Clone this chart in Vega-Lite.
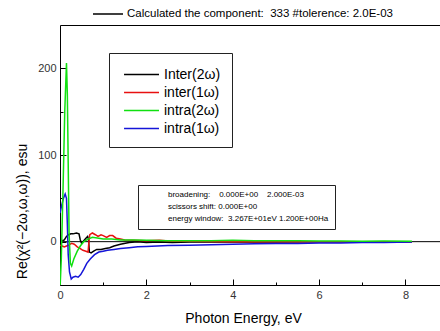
{
  "$schema": "https://vega.github.io/schema/vega-lite/v6.json",
  "width": 380,
  "height": 260,
  "autosize": {"type": "none"},
  "padding": {"left": 60, "top": 25, "right": 0, "bottom": 46},
  "background": "white",
  "config": {
    "font": "Liberation Sans",
    "view": {"stroke": "black", "strokeWidth": 1},
    "axis": {"labelFont": "Liberation Sans", "titleFont": "Liberation Sans", "labelColor": "#333", "titleColor": "black", "tickColor": "black", "domain": false, "grid": false, "labelFontSize": 11, "titleFontSize": 14, "titleFontWeight": "normal"},
    "legend": {"labelFont": "Liberation Sans", "labelColor": "black", "labelLimit": 500}
  },
  "layer": [
    {
      "data": {"values": [{"y": 0}]},
      "mark": {"type": "rule", "color": "black", "strokeWidth": 1},
      "encoding": {"y": {"field": "y", "type": "quantitative", "scale": {"domain": [-50, 250], "nice": false}}}
    },
    {
      "data": {"values": [
        {"series": "Inter(2ω)", "x": 0, "y": 0}, {"series": "Inter(2ω)", "x": 0.05, "y": 1}, {"series": "Inter(2ω)", "x": 0.1, "y": 2}, {"series": "Inter(2ω)", "x": 0.15, "y": 6}, {"series": "Inter(2ω)", "x": 0.2, "y": 8}, {"series": "Inter(2ω)", "x": 0.25, "y": 9}, {"series": "Inter(2ω)", "x": 0.3, "y": 9}, {"series": "Inter(2ω)", "x": 0.38, "y": 10}, {"series": "Inter(2ω)", "x": 0.44, "y": 9}, {"series": "Inter(2ω)", "x": 0.47, "y": 2}, {"series": "Inter(2ω)", "x": 0.5, "y": -2}, {"series": "Inter(2ω)", "x": 0.55, "y": 1}, {"series": "Inter(2ω)", "x": 0.6, "y": 4}, {"series": "Inter(2ω)", "x": 0.64, "y": 6}, {"series": "Inter(2ω)", "x": 0.66, "y": 3}, {"series": "Inter(2ω)", "x": 0.68, "y": -12}, {"series": "Inter(2ω)", "x": 0.72, "y": -13}, {"series": "Inter(2ω)", "x": 0.78, "y": -11}, {"series": "Inter(2ω)", "x": 0.85, "y": -9}, {"series": "Inter(2ω)", "x": 0.95, "y": -9}, {"series": "Inter(2ω)", "x": 1.05, "y": -8}, {"series": "Inter(2ω)", "x": 1.15, "y": -7}, {"series": "Inter(2ω)", "x": 1.25, "y": -5}, {"series": "Inter(2ω)", "x": 1.4, "y": -3}, {"series": "Inter(2ω)", "x": 1.6, "y": -1}, {"series": "Inter(2ω)", "x": 1.8, "y": 0}, {"series": "Inter(2ω)", "x": 2.0, "y": -1}, {"series": "Inter(2ω)", "x": 2.3, "y": -0.5}, {"series": "Inter(2ω)", "x": 2.6, "y": -1}, {"series": "Inter(2ω)", "x": 3, "y": -0.5}, {"series": "Inter(2ω)", "x": 4, "y": -0.5}, {"series": "Inter(2ω)", "x": 5, "y": -0.5}, {"series": "Inter(2ω)", "x": 6, "y": 0}, {"series": "Inter(2ω)", "x": 7, "y": 0}, {"series": "Inter(2ω)", "x": 8.15, "y": 0},
        {"series": "inter(1ω)", "x": 0, "y": -4}, {"series": "inter(1ω)", "x": 0.05, "y": -5}, {"series": "inter(1ω)", "x": 0.1, "y": -6}, {"series": "inter(1ω)", "x": 0.15, "y": -5}, {"series": "inter(1ω)", "x": 0.2, "y": -4}, {"series": "inter(1ω)", "x": 0.27, "y": -2}, {"series": "inter(1ω)", "x": 0.33, "y": -3}, {"series": "inter(1ω)", "x": 0.4, "y": -6}, {"series": "inter(1ω)", "x": 0.47, "y": -8}, {"series": "inter(1ω)", "x": 0.53, "y": -10}, {"series": "inter(1ω)", "x": 0.6, "y": -11}, {"series": "inter(1ω)", "x": 0.65, "y": -12}, {"series": "inter(1ω)", "x": 0.67, "y": 0}, {"series": "inter(1ω)", "x": 0.69, "y": 8}, {"series": "inter(1ω)", "x": 0.75, "y": 10}, {"series": "inter(1ω)", "x": 0.82, "y": 8}, {"series": "inter(1ω)", "x": 0.88, "y": 6}, {"series": "inter(1ω)", "x": 0.95, "y": 8}, {"series": "inter(1ω)", "x": 1.0, "y": 7}, {"series": "inter(1ω)", "x": 1.08, "y": 5}, {"series": "inter(1ω)", "x": 1.15, "y": 7}, {"series": "inter(1ω)", "x": 1.22, "y": 7}, {"series": "inter(1ω)", "x": 1.3, "y": 4}, {"series": "inter(1ω)", "x": 1.4, "y": 3}, {"series": "inter(1ω)", "x": 1.5, "y": 2}, {"series": "inter(1ω)", "x": 1.7, "y": 1.5}, {"series": "inter(1ω)", "x": 2, "y": 1}, {"series": "inter(1ω)", "x": 2.3, "y": 1.5}, {"series": "inter(1ω)", "x": 2.6, "y": 0.5}, {"series": "inter(1ω)", "x": 3, "y": 0.5}, {"series": "inter(1ω)", "x": 4, "y": 0}, {"series": "inter(1ω)", "x": 5, "y": 0}, {"series": "inter(1ω)", "x": 6, "y": 0}, {"series": "inter(1ω)", "x": 7, "y": 0}, {"series": "inter(1ω)", "x": 8.15, "y": 0},
        {"series": "intra(1ω)", "x": 0, "y": 33}, {"series": "intra(1ω)", "x": 0.04, "y": 42}, {"series": "intra(1ω)", "x": 0.08, "y": 50}, {"series": "intra(1ω)", "x": 0.12, "y": 55}, {"series": "intra(1ω)", "x": 0.15, "y": 50}, {"series": "intra(1ω)", "x": 0.17, "y": 20}, {"series": "intra(1ω)", "x": 0.19, "y": -15}, {"series": "intra(1ω)", "x": 0.22, "y": -35}, {"series": "intra(1ω)", "x": 0.26, "y": -43}, {"series": "intra(1ω)", "x": 0.3, "y": -41}, {"series": "intra(1ω)", "x": 0.36, "y": -40}, {"series": "intra(1ω)", "x": 0.42, "y": -41}, {"series": "intra(1ω)", "x": 0.48, "y": -38}, {"series": "intra(1ω)", "x": 0.55, "y": -32}, {"series": "intra(1ω)", "x": 0.62, "y": -25}, {"series": "intra(1ω)", "x": 0.7, "y": -20}, {"series": "intra(1ω)", "x": 0.8, "y": -15}, {"series": "intra(1ω)", "x": 0.9, "y": -12}, {"series": "intra(1ω)", "x": 1.0, "y": -11}, {"series": "intra(1ω)", "x": 1.1, "y": -10}, {"series": "intra(1ω)", "x": 1.25, "y": -9}, {"series": "intra(1ω)", "x": 1.4, "y": -8}, {"series": "intra(1ω)", "x": 1.6, "y": -7}, {"series": "intra(1ω)", "x": 1.8, "y": -6}, {"series": "intra(1ω)", "x": 2.0, "y": -5.5}, {"series": "intra(1ω)", "x": 2.5, "y": -4.5}, {"series": "intra(1ω)", "x": 3, "y": -4}, {"series": "intra(1ω)", "x": 3.5, "y": -3.5}, {"series": "intra(1ω)", "x": 4, "y": -3}, {"series": "intra(1ω)", "x": 4.5, "y": -2.5}, {"series": "intra(1ω)", "x": 5, "y": -2}, {"series": "intra(1ω)", "x": 5.5, "y": -2}, {"series": "intra(1ω)", "x": 6, "y": -1.5}, {"series": "intra(1ω)", "x": 6.5, "y": -1.5}, {"series": "intra(1ω)", "x": 7, "y": -1}, {"series": "intra(1ω)", "x": 7.5, "y": -1}, {"series": "intra(1ω)", "x": 8.15, "y": -0.5},
        {"series": "intra(2ω)", "x": 0, "y": -55}, {"series": "intra(2ω)", "x": 0.03, "y": -20}, {"series": "intra(2ω)", "x": 0.07, "y": 60}, {"series": "intra(2ω)", "x": 0.11, "y": 150}, {"series": "intra(2ω)", "x": 0.15, "y": 206}, {"series": "intra(2ω)", "x": 0.17, "y": 170}, {"series": "intra(2ω)", "x": 0.19, "y": 90}, {"series": "intra(2ω)", "x": 0.21, "y": 10}, {"series": "intra(2ω)", "x": 0.24, "y": -25}, {"series": "intra(2ω)", "x": 0.27, "y": -28}, {"series": "intra(2ω)", "x": 0.32, "y": -20}, {"series": "intra(2ω)", "x": 0.4, "y": -11}, {"series": "intra(2ω)", "x": 0.47, "y": -5}, {"series": "intra(2ω)", "x": 0.55, "y": 0}, {"series": "intra(2ω)", "x": 0.65, "y": 3}, {"series": "intra(2ω)", "x": 0.75, "y": 5}, {"series": "intra(2ω)", "x": 0.9, "y": 4}, {"series": "intra(2ω)", "x": 1.0, "y": 3}, {"series": "intra(2ω)", "x": 1.2, "y": 3}, {"series": "intra(2ω)", "x": 1.4, "y": 2}, {"series": "intra(2ω)", "x": 1.7, "y": 2}, {"series": "intra(2ω)", "x": 2.0, "y": 1.5}, {"series": "intra(2ω)", "x": 2.5, "y": 1}, {"series": "intra(2ω)", "x": 3, "y": 1}, {"series": "intra(2ω)", "x": 3.5, "y": 1}, {"series": "intra(2ω)", "x": 4, "y": 1.5}, {"series": "intra(2ω)", "x": 4.5, "y": 1}, {"series": "intra(2ω)", "x": 5, "y": 1}, {"series": "intra(2ω)", "x": 5.5, "y": 1}, {"series": "intra(2ω)", "x": 6, "y": 0.8}, {"series": "intra(2ω)", "x": 6.5, "y": 0.8}, {"series": "intra(2ω)", "x": 7, "y": 0.6}, {"series": "intra(2ω)", "x": 7.5, "y": 0.8}, {"series": "intra(2ω)", "x": 8.15, "y": 0.5}
      ]},
      "mark": {"type": "line", "strokeWidth": 1.5, "clip": true},
      "encoding": {
        "x": {"field": "x", "type": "quantitative", "scale": {"domain": [0, 8.8], "nice": false},
          "axis": {"values": [0, 1, 2, 3, 4, 5, 6, 7, 8], "labelExpr": "datum.value % 2 === 0 ? datum.label : ''",
            "tickSize": {"condition": {"test": "datum.value % 2 === 0", "value": -6}, "value": -3},
            "labelPadding": 10, "labelFlush": false,
            "title": "Photon Energy, eV", "titleX": 183, "titleY": 33, "titleBaseline": "middle", "titleAlign": "center", "titleAnchor": null}},
        "y": {"field": "y", "type": "quantitative", "scale": {"domain": [-50, 250], "nice": false},
          "axis": {"values": [0, 50, 100, 150, 200], "labelExpr": "datum.value % 100 === 0 ? datum.label : ''",
            "tickSize": {"condition": {"test": "datum.value % 100 === 0", "value": -6}, "value": -3},
            "labelPadding": 10, "labelFlush": false,
            "title": "Re(χ²(−2ω,ω,ω)), esu", "titleX": -38, "titleY": 186, "titleBaseline": "middle", "titleAlign": "center", "titleAnchor": null}},
        "color": {"field": "series", "type": "nominal", "sort": ["Inter(2ω)", "inter(1ω)", "intra(2ω)", "intra(1ω)"],
          "scale": {"domain": ["Inter(2ω)", "inter(1ω)", "intra(2ω)", "intra(1ω)"], "range": ["#000000", "#e81010", "#10e010", "#1515d8"]},
          "legend": {"orient": "none", "legendX": 49, "legendY": 28, "title": null, "padding": 11, "strokeColor": "#222", "fillColor": "white",
            "symbolType": "M-0.68,0H3", "symbolSize": 361, "symbolStrokeWidth": 1.5, "labelFontSize": 14, "labelOffset": 23, "rowPadding": 0}}
      }
    },
    {
      "data": {"values": [{"comp": "Calculated the component:\u00a0\u00a0333 #tolerence: 2.0E-03", "x": 0, "y": 0}]},
      "mark": {"type": "line", "strokeWidth": 1.5},
      "encoding": {
        "x": {"field": "x", "type": "quantitative"},
        "y": {"field": "y", "type": "quantitative"},
        "strokeDash": {"field": "comp", "type": "nominal",
          "legend": {"orient": "none", "legendX": 42, "legendY": -17, "title": null, "padding": 0,
            "symbolType": "M-3,0H3", "symbolSize": 100, "symbolStrokeWidth": 1.5, "symbolStrokeColor": "black", "labelFontSize": 11.5, "labelOffset": 13}}
      }
    },
    {
      "data": {"values": [
        {"info": "broadening:\u00a0\u00a0\u00a0 0.000E+00\u00a0\u00a0\u00a0 2.000E-03", "x": 0, "y": 0},
        {"info": "scissors shift: 0.000E+00", "x": 0, "y": 0},
        {"info": "energy window:\u00a0 3.267E+01eV 1.200E+00Ha", "x": 0, "y": 0}
      ]},
      "mark": {"type": "point", "opacity": 0},
      "encoding": {
        "x": {"field": "x", "type": "quantitative"},
        "y": {"field": "y", "type": "quantitative"},
        "shape": {"field": "info", "type": "nominal", "sort": null,
          "legend": {"orient": "none", "legendX": 78, "legendY": 160, "title": null, "padding": 6, "strokeColor": "#222", "fillColor": "white",
            "symbolSize": 1, "symbolOpacity": 0, "labelFontSize": 8, "labelOffset": 16, "rowPadding": 4}}
      }
    }
  ]
}
